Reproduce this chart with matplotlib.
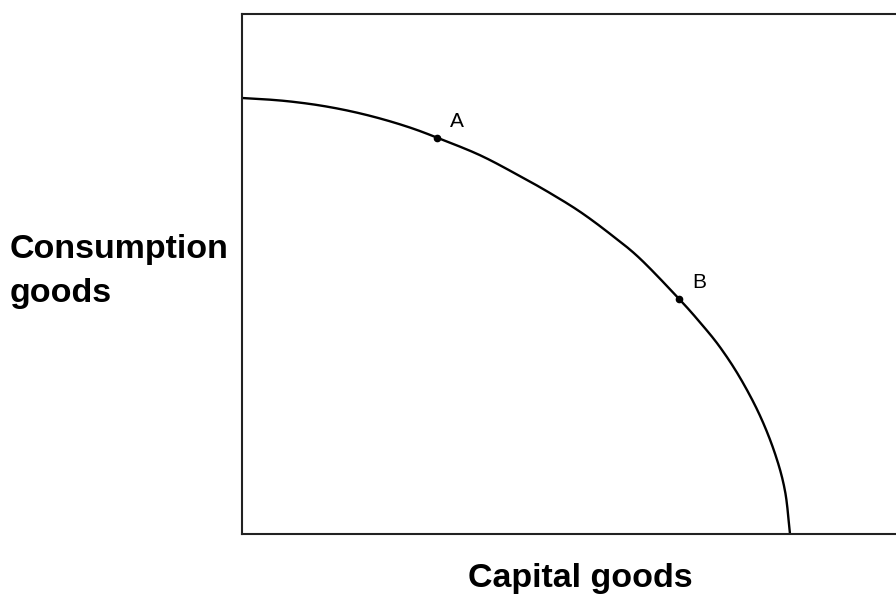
import numpy as np
import matplotlib.pyplot as plt

# frontier (capital goods, consumption goods)
capital = [0, 4.2, 8.8, 14.2, 19.7, 25.2, 30.7, 35.6, 43.4, 50.7, 56.2, 61.7,
           67.2, 72.6, 79.7, 83.6, 87.2, 90.9, 94.5, 97.3, 99.1, 100]
consumption = [100, 99.7, 99.2, 98.3, 97.0, 95.3, 93.2, 90.9, 86.9, 82.1, 78.2, 73.9,
               68.8, 63.2, 54.0, 48.5, 42.9, 35.8, 27.2, 18.3, 9.8, 0]
point_labels = ['A', 'B']
point_x = [35.6, 79.7]
point_y = [90.9, 54.0]


def catmull_rom(xs, ys, n=20):
    # smooth curve through the read points, for drawing only
    p = np.column_stack([xs, ys]).astype(float)
    p = np.vstack([2 * p[0] - p[1], p, 2 * p[-1] - p[-2]])
    out = []
    t = np.linspace(0, 1, n, endpoint=False)[:, None]
    for i in range(1, len(p) - 2):
        p0, p1, p2, p3 = p[i - 1], p[i], p[i + 1], p[i + 2]
        out.append(0.5 * (2 * p1 + (-p0 + p2) * t + (2 * p0 - 5 * p1 + 4 * p2 - p3) * t ** 2
                          + (-p0 + 3 * p1 - 3 * p2 + p3) * t ** 3))
    out.append(p[-2][None, :])
    out = np.vstack(out)
    return out[:, 0], out[:, 1]


W, H = 896, 594
fig = plt.figure(figsize=(W / 100, H / 100), dpi=100)
ax = fig.add_axes([242 / W, 60 / H, (W - 242) / W, 520 / H])
ax.set_xlim(0, 654 / 5.48)
ax.set_ylim(0, 520 / 4.36)
ax.spines['right'].set_visible(False)
for s in ['left', 'top', 'bottom']:
    ax.spines[s].set_linewidth(1.5)
    ax.spines[s].set_color('#222222')
ax.set_xticks([])
ax.set_yticks([])

cx, cy = catmull_rom(capital, consumption)
ax.plot(cx, cy, color='black', lw=1.7, solid_joinstyle='round')
ax.plot(point_x, point_y, 'o', color='black', markersize=4.5)
for lab, x, y in zip(point_labels, point_x, point_y):
    ax.annotate(lab, (x, y), xytext=(20, 16), textcoords='offset pixels',
                ha='center', va='center', fontsize=15, family='Liberation Sans')

lab_font = dict(family='Liberation Sans', fontweight='bold', fontsize=24.5)
fig.text(10 / W, 1 - 258 / H, 'Consumption', ha='left', va='baseline', **lab_font)
fig.text(10 / W, 1 - 302 / H, 'goods', ha='left', va='baseline', **lab_font)
fig.text(580 / W, 1 - 587 / H, 'Capital goods', ha='center', va='baseline', **lab_font)

fig.savefig('out.png', dpi=100)
